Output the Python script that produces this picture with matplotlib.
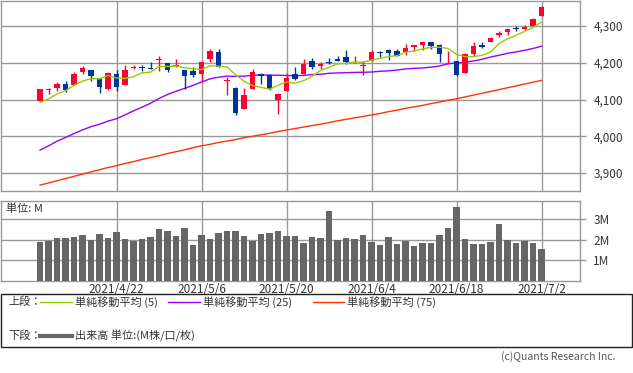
import matplotlib
matplotlib.use("Agg")
import matplotlib.pyplot as plt
from matplotlib.patches import Rectangle
from matplotlib.lines import Line2D
import numpy as np

plt.rcParams['font.family'] = ['Noto Sans CJK JP', 'DejaVu Sans']

# ---------------- data ----------------
dates = ['4/9', '4/12', '4/13', '4/14', '4/15', '4/16', '4/19', '4/20', '4/21', '4/22',
         '4/23', '4/26', '4/27', '4/28', '4/29', '4/30', '5/3', '5/4', '5/5', '5/6',
         '5/7', '5/10', '5/11', '5/12', '5/13', '5/14', '5/17', '5/18', '5/19', '5/20',
         '5/21', '5/24', '5/25', '5/26', '5/27', '5/28', '6/1', '6/2', '6/3', '6/4',
         '6/7', '6/8', '6/9', '6/10', '6/11', '6/14', '6/15', '6/16', '6/17', '6/18',
         '6/21', '6/22', '6/23', '6/24', '6/25', '6/28', '6/29', '6/30', '7/1', '7/2']

opens = [4096.11, 4124.71, 4130.10, 4141.58, 4139.76, 4174.14, 4179.80, 4159.18, 4128.42, 4170.46,
         4138.78, 4185.03, 4188.25, 4185.14, 4206.14, 4198.10, 4191.98, 4179.04, 4177.06, 4169.14,
         4210.34, 4228.29, 4150.34, 4130.55, 4074.99, 4129.58, 4169.92, 4165.94, 4098.45, 4121.97,
         4168.61, 4170.16, 4205.94, 4191.59, 4201.94, 4210.77, 4216.52, 4206.82, 4191.43, 4206.05,
         4229.34, 4233.81, 4232.99, 4228.56, 4242.90, 4248.31, 4255.28, 4248.87, 4220.37, 4204.78,
         4173.40, 4224.61, 4249.27, 4256.97, 4274.45, 4284.90, 4293.21, 4290.65, 4300.73, 4326.60]

highs = [4129.48, 4131.76, 4148.00, 4151.69, 4173.49, 4191.31, 4180.81, 4159.18, 4175.02, 4179.57,
         4194.17, 4194.19, 4193.35, 4201.53, 4218.78, 4198.10, 4209.39, 4179.04, 4187.72, 4202.70,
         4238.04, 4236.39, 4162.04, 4134.73, 4131.58, 4183.13, 4171.92, 4169.15, 4116.93, 4172.80,
         4188.72, 4209.52, 4213.42, 4202.61, 4213.38, 4218.36, 4234.12, 4217.37, 4204.39, 4233.45,
         4232.34, 4236.74, 4237.09, 4249.74, 4248.38, 4255.59, 4257.16, 4251.89, 4232.29, 4204.78,
         4226.24, 4255.84, 4256.60, 4271.28, 4286.12, 4292.14, 4300.52, 4302.43, 4320.66, 4355.43]

lows = [4095.51, 4114.82, 4124.43, 4120.87, 4139.76, 4170.75, 4150.47, 4118.38, 4126.35, 4123.69,
        4138.78, 4182.36, 4176.22, 4181.78, 4176.81, 4174.85, 4188.03, 4128.59, 4160.94, 4147.33,
        4201.64, 4188.13, 4111.53, 4056.88, 4074.99, 4129.58, 4142.69, 4125.99, 4061.41, 4121.97,
        4151.72, 4170.16, 4182.52, 4184.11, 4197.78, 4203.57, 4197.59, 4198.27, 4167.93, 4206.05,
        4215.66, 4208.41, 4218.74, 4220.34, 4232.25, 4234.07, 4238.35, 4202.45, 4196.05, 4164.40,
        4173.40, 4217.27, 4241.43, 4256.97, 4271.16, 4274.67, 4286.67, 4287.96, 4300.73, 4326.60]

closes = [4128.80, 4127.99, 4141.59, 4124.66, 4170.42, 4185.47, 4163.26, 4134.94, 4173.42, 4134.98,
          4180.17, 4187.62, 4186.72, 4183.18, 4211.47, 4181.17, 4192.66, 4164.66, 4167.59, 4201.62,
          4232.60, 4188.43, 4152.10, 4063.04, 4112.50, 4173.85, 4163.29, 4127.83, 4115.68, 4159.12,
          4155.86, 4197.05, 4188.13, 4195.99, 4200.88, 4204.11, 4202.04, 4208.12, 4192.85, 4229.89,
          4226.52, 4227.26, 4219.55, 4239.18, 4247.44, 4255.15, 4246.59, 4223.70, 4221.86, 4166.45,
          4224.79, 4246.44, 4241.84, 4266.49, 4280.70, 4290.61, 4291.80, 4297.50, 4319.94, 4352.34]

sma5 = [4091.6, 4101.6, 4115.1, 4124.0, 4138.7, 4150.0, 4157.1, 4155.8, 4165.5, 4158.4,
        4157.4, 4162.2, 4172.6, 4174.5, 4189.8, 4190.0, 4191.0, 4186.6, 4183.5, 4181.5,
        4191.8, 4191.0, 4188.5, 4167.6, 4149.7, 4138.0, 4133.0, 4128.1, 4138.6, 4148.0,
        4144.4, 4151.1, 4163.2, 4179.2, 4187.6, 4197.2, 4198.2, 4202.2, 4201.6, 4207.4,
        4211.9, 4216.9, 4219.2, 4228.5, 4232.0, 4237.7, 4241.6, 4242.4, 4238.9, 4222.8,
        4216.7, 4216.6, 4220.3, 4229.2, 4252.1, 4265.2, 4274.3, 4285.4, 4296.1, 4310.4]

sma25 = [3962.4, 3973.8, 3986.6, 3996.6, 4007.4, 4017.3, 4026.1, 4032.7, 4041.2, 4047.6,
         4058.2, 4069.2, 4079.0, 4089.9, 4102.8, 4113.7, 4122.4, 4130.1, 4138.5, 4147.6,
         4156.2, 4160.6, 4163.7, 4163.0, 4163.6, 4165.4, 4166.9, 4166.3, 4166.0, 4165.5,
         4164.3, 4165.7, 4167.8, 4168.7, 4171.3, 4172.3, 4172.9, 4173.7, 4174.1, 4174.8,
         4176.7, 4178.0, 4180.2, 4183.1, 4184.9, 4185.8, 4188.2, 4191.0, 4197.4, 4199.5,
         4201.6, 4204.9, 4209.5, 4215.5, 4220.4, 4225.8, 4229.5, 4233.9, 4238.9, 4244.9]

sma75 = [3867, 3873, 3879, 3885, 3891, 3897, 3903, 3909, 3915, 3920,
         3926, 3931, 3937, 3942, 3947, 3953, 3958, 3963, 3969, 3974,
         3978, 3983, 3987, 3991, 3996, 4000, 4004, 4008, 4013, 4017,
         4021, 4025, 4029, 4033, 4037, 4042, 4046, 4050, 4054, 4058,
         4062, 4067, 4071, 4076, 4080, 4084, 4089, 4093, 4098, 4102,
         4107, 4112, 4117, 4122, 4127, 4132, 4137, 4142, 4147, 4152]

volume_m = [1.88, 1.95, 2.08, 2.08, 2.13, 2.22, 1.98, 2.27, 2.08, 2.37,
            2.03, 1.93, 2.03, 2.13, 2.51, 2.42, 2.17, 2.56, 1.74, 2.22,
            2.03, 2.32, 2.42, 2.42, 2.17, 1.93, 2.27, 2.32, 2.42, 2.17,
            2.17, 1.84, 2.13, 2.08, 3.38, 1.98, 2.08, 2.03, 2.22, 1.88,
            1.74, 2.13, 1.79, 1.93, 1.69, 1.84, 1.84, 2.22, 2.56, 3.57,
            2.03, 1.79, 1.79, 1.88, 2.75, 1.98, 1.84, 1.93, 1.84, 1.55]

date_tick_dates = ['4/22', '5/6', '5/20', '6/4', '6/18', '7/2']
date_tick_labels = ['2021/4/22', '2021/5/6', '2021/5/20', '2021/6/4', '2021/6/18', '2021/7/2']
price_ticks = [3900, 4000, 4100, 4200, 4300]
vol_ticks = [1, 2, 3]
vol_tick_labels = ['1M', '2M', '3M']

# ---------------- styling ----------------
W, H = 633, 373
UP = '#FF0033'
DOWN = '#003399'
C5 = '#99CC00'
C25 = '#9900FF'
C75 = '#FF3300'
GRID = '#999999'
VOLC = '#666666'
TXT = '#333333'


def px_axes(x0, y0, x1, y1):
    return [x0 / W, 1 - y1 / H, (x1 - x0) / W, (y1 - y0) / H]


def fx(x):
    return x / W


def fy(y):
    return 1 - y / H


fig = plt.figure(figsize=(W / 100, H / 100), dpi=100)
fig.patch.set_facecolor('white')

x = np.arange(len(dates))
tick_pos = [dates.index(d) for d in date_tick_dates]
xlim = (-4.65, 63.47)

# ---------------- main price panel ----------------
ax = fig.add_axes(px_axes(0.5, 0.5, 579.5, 190.5))
ax.set_xlim(*xlim)
ax.set_ylim(3852.4, 4369.4)

for v in price_ticks:
    ax.axhline(v, color=GRID, lw=1.0, zorder=0)
for p in tick_pos:
    ax.axvline(p, color=GRID, lw=1.0, zorder=0)

o = np.array(opens)
c = np.array(closes)
hi = np.array(highs)
lo = np.array(lows)
up = c >= o
colors = np.where(up, UP, DOWN)
ax.vlines(x, lo, hi, colors=colors, lw=1.0, zorder=3)
body_bottom = np.minimum(o, c)
body_h = np.abs(c - o)
min_h = 2.6
adj_bottom = np.where(body_h < min_h, (o + c) / 2 - min_h / 2, body_bottom)
adj_h = np.maximum(body_h, min_h)
ax.bar(x, adj_h, bottom=adj_bottom, width=0.7, color=colors, lw=0, zorder=4)

ax.plot(x, sma75, color=C75, lw=1.0, zorder=2)
ax.plot(x, sma25, color=C25, lw=1.0, zorder=2)
ax.plot(x, sma5, color=C5, lw=1.0, zorder=5)

ax.yaxis.tick_right()
ax.set_yticks(price_ticks)
ax.set_yticklabels([f'{v:,}' for v in price_ticks])
ax.tick_params(axis='y', length=4, width=1, color=GRID, labelsize=8.5,
               labelcolor=TXT, pad=6)
ax.set_xticks([])
for s in ax.spines.values():
    s.set_color(GRID)
    s.set_linewidth(1.0)

# ---------------- volume panel ----------------
axv = fig.add_axes(px_axes(0.5, 201, 579.5, 280.5))
axv.set_xlim(*xlim)
axv.set_ylim(0.0, 3.88)
for v in vol_ticks:
    axv.axhline(v, color=GRID, lw=1.0, zorder=0)
for p in tick_pos:
    axv.axvline(p, color=GRID, lw=1.0, zorder=0)
axv.bar(x, volume_m, width=0.72, color=VOLC, lw=0, zorder=3)
axv.yaxis.tick_right()
axv.set_yticks(vol_ticks)
axv.set_yticklabels(vol_tick_labels)
axv.tick_params(axis='y', length=4, width=1, color=GRID, labelsize=8.5,
                labelcolor=TXT, pad=6)
axv.set_xticks(tick_pos)
axv.set_xticklabels(date_tick_labels)
axv.tick_params(axis='x', length=0, labelsize=8.5, labelcolor=TXT, pad=2)
for s in axv.spines.values():
    s.set_color(GRID)
    s.set_linewidth(1.0)

fig.text(fx(6), fy(209), '単位: M', fontsize=8, color=TXT, va='center', ha='left')

# ---------------- legend box ----------------
fig.add_artist(Rectangle((fx(0.5), fy(346.5)), fx(632) - fx(0.5), fy(293.5) - fy(346.5),
                         transform=fig.transFigure, facecolor='white',
                         edgecolor='#222222', lw=1.0))

row1 = 302
row2 = 336
fig.text(fx(8), fy(row1), '上段：', fontsize=8, color=TXT, va='center', ha='left')
legend_items = [(40, 72, 75, C5, '単純移動平均 (5)'),
                (168, 200, 203, C25, '単純移動平均 (25)'),
                (313, 344, 347, C75, '単純移動平均 (75)')]
for lx0, lx1, tx, col, label in legend_items:
    fig.add_artist(Line2D([fx(lx0), fx(lx1)], [fy(row1), fy(row1)],
                          transform=fig.transFigure, color=col, lw=1.0))
    fig.text(fx(tx), fy(row1), label, fontsize=8, color=TXT, va='center', ha='left')

fig.text(fx(8), fy(row2), '下段：', fontsize=8, color=TXT, va='center', ha='left')
fig.add_artist(Line2D([fx(40), fx(72)], [fy(row2), fy(row2)],
                      transform=fig.transFigure, color=VOLC, lw=3.0))
fig.text(fx(75), fy(row2), '出来高 単位:(M株/口/枚)', fontsize=8, color=TXT,
         va='center', ha='left')

fig.text(fx(615), fy(357), '(c)Quants Research Inc.', fontsize=7.5, color='#555555',
         va='center', ha='right')

fig.savefig('out.png', dpi=100, facecolor='white')
